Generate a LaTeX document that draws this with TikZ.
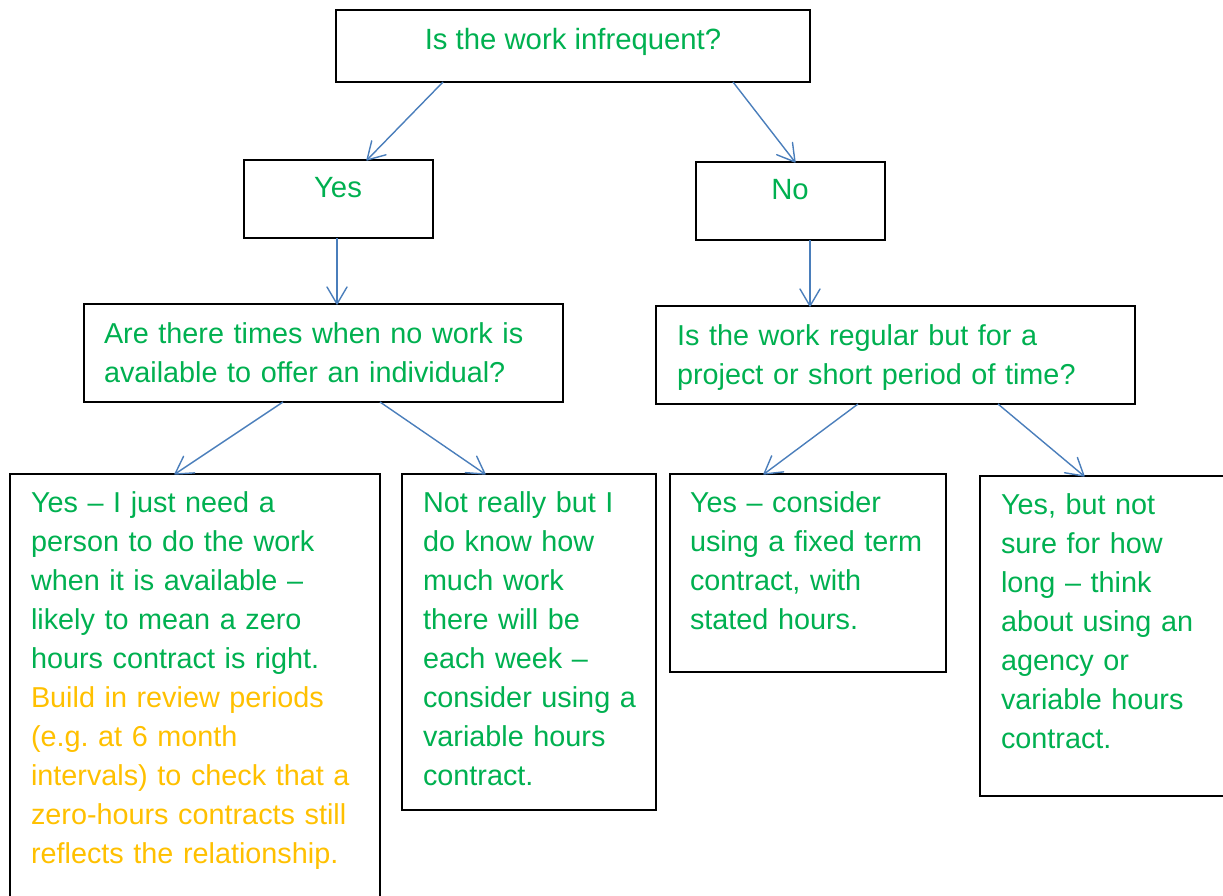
\documentclass[tikz,border=0pt]{standalone}
\usepackage{fontspec}
\setmainfont{Liberation Sans}
\usetikzlibrary{arrows.meta}
\definecolor{tgreen}{HTML}{00B050}
\definecolor{torange}{HTML}{FFC000}
\definecolor{tblue}{HTML}{4A7EBB}
\frenchspacing
\pgfdeclarearrow{
  name = Vbarb,
  parameters = {\the\pgfarrowlength,\the\pgfarrowwidth},
  setup code = {
    \pgfarrowssettipend{0pt}
    \pgfarrowssetlineend{-0.7pt}
    \pgfarrowssetbackend{-\pgfarrowlength}
    \pgfarrowssavethe\pgfarrowlength
    \pgfarrowssavethe\pgfarrowwidth
  },
  drawing code = {
    \pgfsetdash{}{0pt}
    \pgfsetroundjoin
    \pgfsetroundcap
    \pgfpathmoveto{\pgfpoint{-\pgfarrowlength}{.5\pgfarrowwidth}}
    \pgfpathlineto{\pgfpointorigin}
    \pgfpathlineto{\pgfpoint{-\pgfarrowlength}{-.5\pgfarrowwidth}}
    \pgfusepathqstroke
  },
  defaults = {length=17pt, width=20pt}
}
\begin{document}
\begin{tikzpicture}[x=1pt,y=-1pt,
  box/.style={draw=black, line width=1.6pt, anchor=north west, inner sep=0pt, outer sep=0pt},
  txt/.style={text=tgreen, font=\fontsize{28.8}{39}\selectfont, inner sep=0pt, outer sep=0pt, align=left, anchor=base west, text width=#1},
  txt/.default=300pt,
  ctxt/.style={text=tgreen, font=\fontsize{29.3}{39}\selectfont, inner sep=0pt, outer sep=0pt, anchor=base},
  arr/.style={draw=tblue, line width=1.4pt, -{Vbarb[length=17pt,width=20pt]}}]
\useasboundingbox (0,0) rectangle (1223,896);
% boxes
\node[box,minimum width=474pt,minimum height=72pt] (q1) at (336,10) {};
\node[box,minimum width=189pt,minimum height=78pt] (yes) at (244,160) {};
\node[box,minimum width=189pt,minimum height=78pt] (no) at (696,162) {};
\node[box,minimum width=479pt,minimum height=98pt] (q2a) at (84,304) {};
\node[box,minimum width=479pt,minimum height=98pt] (q2b) at (656,306) {};
\node[box,minimum width=370pt,minimum height=430pt] (r1) at (10,474) {};
\node[box,minimum width=254pt,minimum height=336pt] (r2) at (402,474) {};
\node[box,minimum width=276pt,minimum height=198pt] (r3) at (670,474) {};
\node[box,minimum width=250pt,minimum height=320pt] (r4) at (980,476) {};
% texts
\node[ctxt] (q1t) at (573,50) {Is the work infrequent?};
\node[ctxt] (yest) at (338,198) {Yes};
\node[ctxt] (not) at (790,200) {No};
\node[txt=450pt] (q2at) at (104,343) {Are there times when no work is\\available to offer an individual?};
\node[txt=450pt] (q2bt) at (677,345) {Is the work regular but for a\\project or short period of time?};
\node[txt=340pt] (r1t) at (31,512) {Yes – I just need a\\person to do the work\\when it is available –\\likely to mean a zero\\hours contract is right.\\\textcolor{torange}{Build in review periods}\\\textcolor{torange}{(e.g. at 6 month}\\\textcolor{torange}{intervals) to check that a}\\\textcolor{torange}{zero-hours contracts still}\\\textcolor{torange}{reflects the relationship.}};
\node[txt=225pt] (r2t) at (423,512) {Not really but I\\do know how\\much work\\there will be\\each week –\\consider using a\\variable hours\\contract.};
\node[txt=250pt] (r3t) at (690,512) {Yes – consider\\using a fixed term\\contract, with\\stated hours.};
\node[txt=220pt] (r4t) at (1001,514) {Yes, but not\\sure for how\\long – think\\about using an\\agency or\\variable hours\\contract.};
% arrows
\draw[arr] ([xshift=107pt]q1.south west) -- ([xshift=123pt]yes.north west);
\draw[arr] ([xshift=397pt]q1.south west) -- ([xshift=99pt]no.north west);
\draw[arr] ([xshift=93pt]yes.south west) -- ([xshift=253pt]q2a.north west);
\draw[arr] ([xshift=114pt]no.south west) -- ([xshift=154pt]q2b.north west);
\draw[arr] ([xshift=199pt]q2a.south west) -- ([xshift=165pt]r1.north west);
\draw[arr] ([xshift=296pt]q2a.south west) -- ([xshift=83pt]r2.north west);
\draw[arr] ([xshift=202pt]q2b.south west) -- ([xshift=94pt]r3.north west);
\draw[arr] ([xshift=342pt]q2b.south west) -- ([xshift=104pt]r4.north west);
\end{tikzpicture}
\end{document}
